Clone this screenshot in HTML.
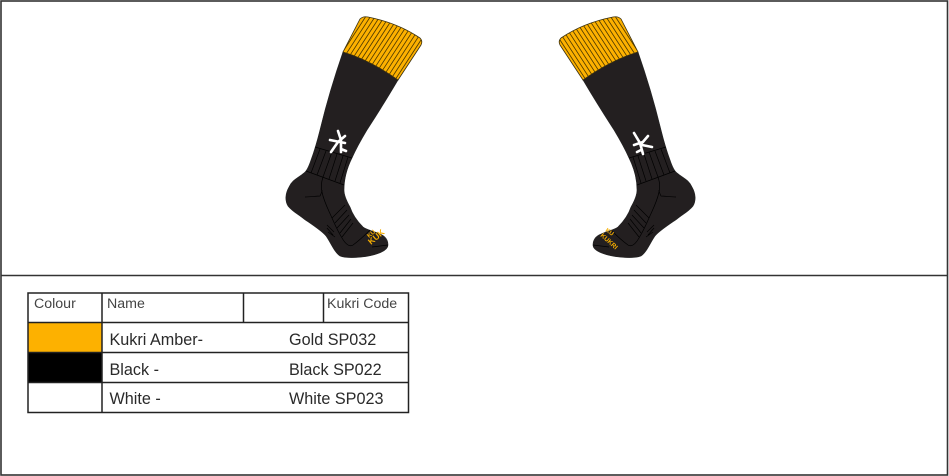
<!DOCTYPE html>
<html><head><meta charset="utf-8"><style>
html,body{margin:0;padding:0;background:#fff;width:949px;height:476px;overflow:hidden}
svg{display:block}
text{font-family:"Liberation Sans",sans-serif}
.h{font-size:14.200px;fill:#444}
.r{font-size:16.200px;fill:#2a2a2a}
</style></head><body>
<svg width="949" height="476" viewBox="0 0 949 476" xmlns="http://www.w3.org/2000/svg">
<defs>
<clipPath id="cuffclip"><path d="M360 19Q363 16 368 17Q398 23 420 38Q423 41 421 45L398 80Q370 60 343 52Z"/></clipPath>
<g id="sock">
<path d="M343 52C335 75 326 105 320 130C317 142 314 152 311 160C309 166 307 171 304 173C298 178 292 180 289 187C285 194 285 201 288 206C293 212 298 214 304 219C314 226 322 231 326 236C331 243 334 252 340 256C345 258 352 258 362 257C372 256 388 252 388 245C388 240 385 236 380 234C373 231 367 230 363 227C356 220 352 213 350 207C346 200 344 195 344 190C344 180 347 168 352 158C356 149 361 140 367 130C378 113 388 97 398 80C370 60 343 52 343 52Z" fill="#231f20" stroke="#222" stroke-width=".6"/>
<path d="M360 19Q363 16 368 17Q398 23 420 38Q423 41 421 45L398 80Q370 60 343 52Z" fill="#fdb100" stroke="#3a3010" stroke-width=".8"/>
<g clip-path="url(#cuffclip)" stroke="#4f3b00" stroke-width=".85">
<path d="M370 10L318 90M374.700 10L322.700 90M379.400 10L327.400 90M384.100 10L332.100 90M388.800 10L336.800 90M393.500 10L341.500 90M398.200 10L346.200 90M402.900 10L350.900 90M407.600 10L355.600 90M412.300 10L360.300 90M417 10L365 90M421.700 10L369.700 90M426.400 10L374.400 90M431.100 10L379.100 90M435.800 10L383.800 90M440.500 10L388.500 90"/>
</g>
<g fill="none" stroke="#000" stroke-width=".7">
<path d="M315 147L352 158M306 171L344 185"/>
<path d="M320 149L311 173M326 151L317 175M332 152L323 177M337 154L329 179M343 156L335 181M348 157L340 183"/>
<path d="M323 177C321 183 321 188 322 192C324 202 329 211 332 218C335 225 339 233 342 238C346 245 350 247 353 245C360 240 365 235 370 230"/>
<path d="M305 197C311 197 316 196 320 196C321 194 322 192 322 190"/>
<path d="M332 218L345 205M335 223L347 210M337 228L349 215M340 233L351 219M342 237L353 223"/>
<path d="M327 225L334 232M327 228L333 235M328 232L335 237"/>
<path d="M372 247L388 245"/>
</g>
</g>
</defs>

<rect x="1" y="1" width="946.500" height="474" fill="#fff" stroke="#333" stroke-width="1.600"/>
<line x1="1" y1="275.500" x2="948" y2="275.500" stroke="#333" stroke-width="1.600"/>

<use href="#sock"/>
<g transform="translate(981,0) scale(-1,1)"><use href="#sock"/></g>

<g fill="none" stroke="#fff" stroke-width="2.600" stroke-linecap="round">
<path d="M338 131L341 140L341 152M338 142L331 152M330 140L345 143M345 136L338 142M341 149L346 151"/>
<path d="M634 133L640 143L643 154M652 147L642 145M648 136L642 143M634 145L643 142M641 150L637 152"/>
</g>

<text transform="translate(371,245) rotate(-40)" style="font-size:8.500px;font-weight:bold" fill="#f5ad00">KUK</text>
<text transform="translate(369,238) rotate(-40)" style="font-size:6px;font-weight:bold" fill="#f5ad00">KU</text>
<text transform="translate(600,236) rotate(42)" style="font-size:6.500px;font-weight:bold" fill="#f5ad00">KUKRI</text>
<text transform="translate(605,231) rotate(35)" style="font-size:6px;font-weight:bold" fill="#f5ad00">KU</text>

<rect x="28" y="323" width="74" height="30" fill="#fdb100"/>
<rect x="28" y="353" width="74" height="30" fill="#000"/>
<g fill="none" stroke="#222" stroke-width="1.500">
<rect x="28" y="293" width="380.500" height="119.500"/>
<path d="M28 322.500H408.500M28 352.500H408.500M28 382.500H408.500M102 293V412.500M243.500 293V322.500M323.500 293V322.500"/>
</g>

<text class="h" x="34" y="308">Colour</text>
<text class="h" x="107" y="308">Name</text>
<text class="h" x="327" y="308">Kukri Code</text>
<text class="r" x="109.500" y="345">Kukri Amber-</text>
<text class="r" x="289" y="345">Gold SP032</text>
<text class="r" x="109.500" y="375">Black -</text>
<text class="r" x="289" y="375">Black SP022</text>
<text class="r" x="109.500" y="404">White -</text>
<text class="r" x="289" y="404">White SP023</text>
</svg>
</body></html>
